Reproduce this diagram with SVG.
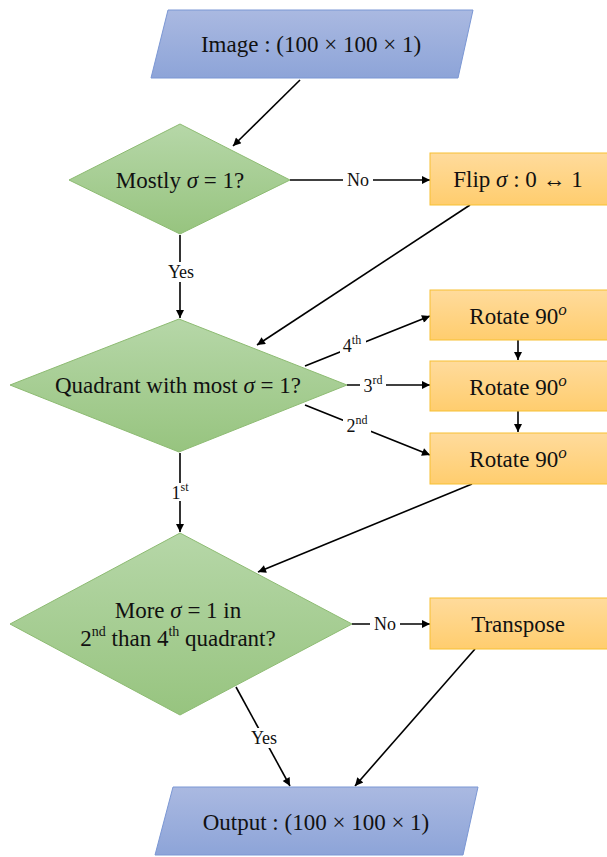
<svg xmlns="http://www.w3.org/2000/svg" width="607" height="857" viewBox="0 0 607 857">
<defs>
<linearGradient id="gBlue" x1="0" y1="0" x2="0" y2="1"><stop offset="0" stop-color="#aab9e1"/><stop offset="1" stop-color="#8da4d8"/></linearGradient>
<linearGradient id="gGreen" x1="0" y1="0" x2="0" y2="1"><stop offset="0" stop-color="#b6d7a8"/><stop offset="1" stop-color="#97c47f"/></linearGradient>
<linearGradient id="gOrange" x1="0" y1="0" x2="0" y2="1"><stop offset="0" stop-color="#ffdb9c"/><stop offset="1" stop-color="#ffcd6e"/></linearGradient>
<marker id="arr" viewBox="0 0 10 10" refX="10" refY="5" markerWidth="10" markerHeight="8" markerUnits="userSpaceOnUse" orient="auto"><path d="M0,0 L10,5 L0,10 z" fill="#000"/></marker>
<style>
.io{fill:url(#gBlue);stroke:#7b97d4;stroke-width:1}
.dec{fill:url(#gGreen);stroke:#8dbb72;stroke-width:1}
.proc{fill:url(#gOrange);stroke:#f7c033;stroke-width:1}
text{font-family:'Liberation Serif','DejaVu Serif','Noto Serif','Times New Roman',serif}
.t{font-size:23px;fill:#111;text-anchor:middle;dominant-baseline:central}
.lbl{font-size:18px;fill:#111;text-anchor:middle;dominant-baseline:central}
.bg{fill:#fff}
.c{stroke:#000;stroke-width:1.6;fill:none;marker-end:url(#arr)}
.i{font-style:italic}
</style>
</defs>
<g id="connectors">
<line class="c" x1="300" y1="80" x2="233" y2="146"/>
<line class="c" x1="290" y1="180" x2="430" y2="180"/>
<line class="c" x1="180" y1="235" x2="180" y2="318"/>
<line class="c" x1="470" y1="205" x2="257" y2="345"/>
<line class="c" x1="305" y1="366" x2="430" y2="316"/>
<line class="c" x1="347" y1="385" x2="430" y2="385"/>
<line class="c" x1="305" y1="405" x2="430" y2="455"/>
<line class="c" x1="518" y1="340" x2="518" y2="360"/>
<line class="c" x1="518" y1="411" x2="518" y2="432"/>
<line class="c" x1="472" y1="484" x2="258" y2="572"/>
<line class="c" x1="180" y1="453" x2="180" y2="532"/>
<line class="c" x1="352" y1="624" x2="430" y2="624"/>
<line class="c" x1="236" y1="687" x2="290" y2="786"/>
<line class="c" x1="475" y1="649" x2="355" y2="786"/>
<g id="labels">
<rect class="bg" x="343" y="170" width="30" height="20"/>
<text class="lbl" x="358" y="180">No</text>
<rect class="bg" x="164" y="262" width="34" height="20"/>
<text class="lbl" x="181" y="272">Yes</text>
<rect class="bg" x="340" y="336" width="26" height="18"/>
<text class="lbl" x="352" y="346">4<tspan font-size="12" dy="-6">th</tspan></text>
<rect class="bg" x="360" y="376" width="26" height="18"/>
<text class="lbl" x="373" y="386">3<tspan font-size="12" dy="-6">rd</tspan></text>
<rect class="bg" x="343" y="416" width="28" height="18"/>
<text class="lbl" x="357" y="426">2<tspan font-size="12" dy="-6">nd</tspan></text>
<rect class="bg" x="167" y="483" width="26" height="18"/>
<text class="lbl" x="180" y="493">1<tspan font-size="12" dy="-6">st</tspan></text>
<rect class="bg" x="370" y="614" width="30" height="20"/>
<text class="lbl" x="385" y="624">No</text>
<rect class="bg" x="246" y="728" width="36" height="20"/>
<text class="lbl" x="264" y="738">Yes</text>
</g>
</g>
<g id="image">
<polygon class="io" points="168,10 473,10 458,78 151,78"/>
<text class="t" x="311" y="44">Image : (100 × 100 × 1)</text>
</g>
<g id="mostly">
<polygon class="dec" points="180,124 290,180 180,234 69,180"/>
<text class="t" x="180" y="180">Mostly <tspan class="i">σ</tspan> = 1?</text>
</g>
<g id="flip">
<rect class="proc" x="430" y="153" width="178" height="52"/>
<text class="t" x="518" y="179">Flip <tspan class="i">σ</tspan> :  0 ↔ 1</text>
</g>
<g id="quadrant">
<polygon class="dec" points="179,319 347,385 179,452 10,385"/>
<text class="t" x="178" y="385">Quadrant with most <tspan class="i">σ</tspan> = 1?</text>
</g>
<g id="rot1">
<rect class="proc" x="430" y="290" width="178" height="50"/>
<text class="t" x="518" y="316">Rotate 90<tspan class="i" font-size="17" dy="-7">o</tspan></text>
</g>
<g id="rot2">
<rect class="proc" x="430" y="361" width="178" height="50"/>
<text class="t" x="518" y="387">Rotate 90<tspan class="i" font-size="17" dy="-7">o</tspan></text>
</g>
<g id="rot3">
<rect class="proc" x="430" y="433" width="178" height="51"/>
<text class="t" x="518" y="459">Rotate 90<tspan class="i" font-size="17" dy="-7">o</tspan></text>
</g>
<g id="more">
<polygon class="dec" points="180,533 352,624 180,715 10,624"/>
<text class="t" x="178" y="610">More <tspan class="i">σ</tspan> = 1 in</text>
<text class="t" x="178" y="638">2<tspan font-size="14" dy="-7">nd</tspan><tspan dy="7"> than 4</tspan><tspan font-size="14" dy="-7">th</tspan><tspan dy="7"> quadrant?</tspan></text>
</g>
<g id="transpose">
<rect class="proc" x="430" y="598" width="178" height="51"/>
<text class="t" x="518" y="624">Transpose</text>
</g>
<g id="output">
<polygon class="io" points="173,787 478,787 463,855 155,855"/>
<text class="t" x="316" y="822">Output : (100 × 100 × 1)</text>
</g>
</svg>
